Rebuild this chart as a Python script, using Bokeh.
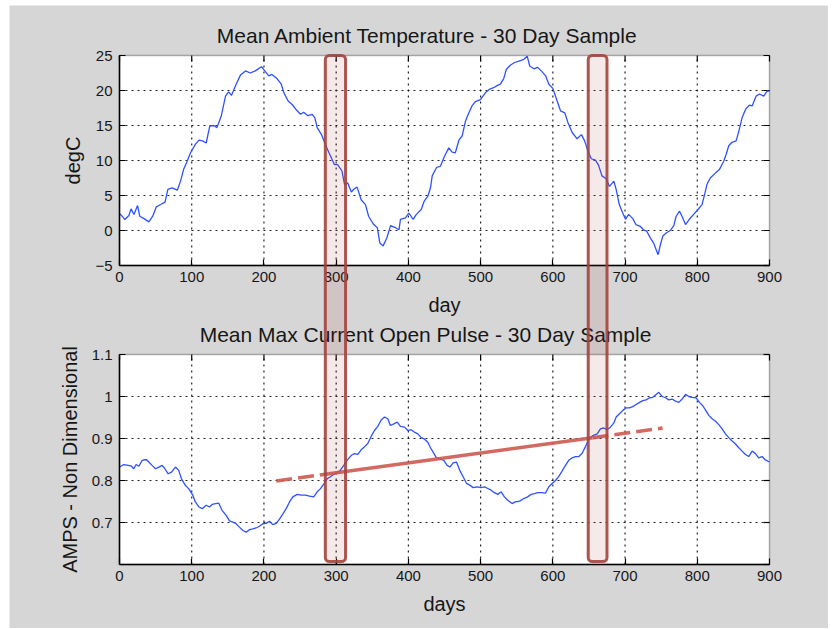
from bokeh.plotting import figure
from bokeh.models import Range1d, LinearAxis, FixedTicker, BoxAnnotation, Label
from bokeh.embed import file_html
from bokeh.resources import INLINE
import math

# ---------------- data ----------------
temp_day = [0, 3.7, 7.4, 13, 16, 20, 25, 28, 34, 40.6, 46, 51, 57, 63, 67, 73, 80, 84.5, 89, 93.7,
            98.3, 105, 110, 115, 120, 125, 130.6, 135, 141, 146.8, 151, 155, 161.5, 167.5, 174.5, 181,
            188, 196.6, 202, 206.8, 211, 218, 224, 227.5, 233.5, 239, 246, 250.6, 255, 261, 266.8,
            270.5, 273.7, 279.7, 285, 290, 297.7, 302, 308, 311.6, 316, 321, 325.4, 329, 334.6, 340.6,
            345, 352, 357, 360.5, 365, 370, 375.3, 382, 387, 389, 396, 400.6, 406.6, 411, 417.7, 422,
            427, 430.6, 433, 439, 444.5, 450, 456, 460.6, 465, 469.9, 474.4, 479, 482, 488, 492.8,
            499.8, 506.8, 512.8, 518, 522.7, 527.3, 532, 535.6, 541, 547, 553, 559, 564.5, 568, 573.7,
            579, 585, 590, 594.5, 600, 606, 610.6, 616.6, 621, 626.8, 633.6, 639.6, 644, 648.7, 653.3,
            659, 663.4, 668, 673.9, 678.4, 684.5, 687.6, 692, 696.8, 700.6, 705, 710.7, 715, 721, 725.5,
            730, 735, 739.5, 745.8, 749, 752.3, 757, 763, 767.5, 770.6, 775.4, 779, 783.7, 789, 795,
            801, 806.6, 810, 813.5, 818, 825, 830.6, 836.6, 840, 843.6, 848, 853.8, 857.6, 862, 866.8,
            872, 876, 881.5, 886, 892, 896.6, 900]
temp_degc = [2.42, 2.04, 1.56, 2.14, 3.09, 2.28, 3.57, 2.04, 1.7, 1.23, 2.04, 3.38, 3.71, 4.05, 5.86,
             6.1, 5.76, 7.05, 8.8, 9.9, 11.1, 12.3, 12.9, 12.8, 12.5, 14.9, 15.0, 14.7, 16.4, 19.2, 19.8,
             19.3, 20.9, 22.2, 22.8, 22.5, 22.8, 23.4, 22.7, 22.1, 22.3, 21.7, 20.9, 19.7, 18.5, 18.0,
             17.1, 16.6, 16.9, 16.4, 16.6, 16.1, 14.7, 13.7, 12.3, 11.1, 9.4, 9.4, 8.5, 6.6, 6.8, 5.5,
             6.0, 6.2, 4.4, 3.7, 2.0, 0.85, 0.4, -1.8, -2.2, -1.1, 0.7, 0.4, 0.1, 1.6, 1.8, 2.5, 1.6,
             2.3, 3.0, 4.2, 4.9, 6.1, 7.8, 9.0, 9.2, 10.6, 11.8, 11.2, 11.1, 12.9, 13.5, 15.6, 16.4,
             17.8, 18.4, 18.7, 19.7, 20.2, 20.4, 20.7, 20.9, 21.7, 23.0, 23.6, 24.0, 24.2, 24.4, 24.9,
             23.5, 23.1, 23.3, 22.7, 22.1, 20.9, 20.3, 18.5, 17.1, 16.8, 15.4, 14.0, 13.1, 13.7, 12.8,
             11.3, 10.25, 10.06, 9.3, 7.8, 7.4, 6.3, 7.05, 5.9, 3.7, 2.5, 1.6, 2.3, 1.7, 0.85, 0.6, 0.1,
             -0.1, -1.06, -1.8, -3.45, -2.0, -0.8, -0.35, 0.04, 0.7, 2.0, 2.76, 2.0, 0.85, 1.6, 2.3, 3.0,
             3.7, 5.1, 6.6, 7.5, 8.2, 8.7, 9.9, 10.9, 12.1, 12.6, 12.8, 14.2, 16.1, 17.3, 17.9, 17.8,
             19.2, 19.5, 19.2, 19.9, 19.9]

amp_day = [0, 6, 12, 16.6, 19.8, 23, 26.8, 31.4, 37, 40.6, 45, 50, 54.5, 59, 62.8, 67.4, 72, 77.5, 82,
           85.8, 91.4, 96, 101.5, 105, 110, 114.5, 120, 124.6, 128.3, 133, 137.5, 142, 147.7, 152.3,
           157, 161.5, 166, 170.8, 175.4, 180, 184.6, 189, 193.8, 198.4, 203, 207.7, 212.3, 217,
           221.5, 226, 230.8, 235.4, 240, 246, 252, 257.5, 263, 269, 273.7, 278, 283, 287.5, 292, 298,
           305, 310.6, 315, 321, 325.4, 330, 334.6, 339, 343.8, 348.4, 353, 357.6, 362.3, 366.9, 371.5,
           375, 379.8, 384.5, 389, 394.6, 399.2, 403.8, 408.5, 413, 417.7, 422, 426.9, 430.6, 434,
           438.9, 443.5, 449, 453.7, 457.4, 462, 466.6, 471.2, 475.8, 480.5, 485, 489.7, 495.2, 500.7,
           505.4, 510, 514.6, 519, 523.8, 528.4, 533, 537.7, 543.6, 548, 554, 559.8, 565, 570, 574.6,
           579, 585, 589.8, 594.5, 599, 603.7, 608.3, 613, 617.5, 622, 626.8, 631.4, 636, 640.6, 645,
           649.8, 655.4, 661.4, 665.9, 670.5, 675, 679.8, 684.5, 687.7, 692.3, 696.9, 701.5, 706,
           710.7, 715.3, 720, 724.6, 729, 734, 738.5, 743, 746.7, 751.4, 756, 760.6, 765, 769.8, 774.4,
           779, 783.7, 788.3, 792.9, 798.4, 803, 807.6, 811.3, 816, 820.6, 825.2, 829.8, 834.4, 839,
           843.6, 848.2, 852.9, 857.5, 862, 866.7, 871.3, 875.9, 880.5, 885, 889.7, 894.3, 900]
amp_value = [0.832, 0.838, 0.836, 0.834, 0.828, 0.838, 0.834, 0.848, 0.85, 0.844, 0.836, 0.828, 0.832,
             0.836, 0.828, 0.816, 0.82, 0.832, 0.824, 0.804, 0.788, 0.78, 0.765, 0.749, 0.737, 0.733,
             0.741, 0.737, 0.743, 0.745, 0.746, 0.729, 0.717, 0.704, 0.701, 0.697, 0.689, 0.681, 0.677,
             0.683, 0.685, 0.687, 0.691, 0.697, 0.698, 0.703, 0.695, 0.698, 0.708, 0.72, 0.733, 0.749,
             0.761, 0.767, 0.765, 0.765, 0.763, 0.761, 0.773, 0.78, 0.792, 0.804, 0.809, 0.816, 0.823,
             0.836, 0.848, 0.86, 0.864, 0.862, 0.873, 0.88, 0.888, 0.905, 0.919, 0.929, 0.944, 0.951,
             0.947, 0.931, 0.935, 0.939, 0.929, 0.927, 0.919, 0.921, 0.915, 0.911, 0.902, 0.899, 0.891,
             0.878, 0.868, 0.854, 0.852, 0.848, 0.836, 0.832, 0.842, 0.844, 0.824, 0.809, 0.793, 0.789,
             0.783, 0.785, 0.783, 0.785, 0.781, 0.777, 0.771, 0.767, 0.773, 0.761, 0.753, 0.745, 0.749,
             0.751, 0.757, 0.761, 0.767, 0.769, 0.771, 0.771, 0.770, 0.785, 0.793, 0.8, 0.81, 0.823,
             0.836, 0.848, 0.854, 0.857, 0.857, 0.865, 0.88, 0.899, 0.907, 0.911, 0.923, 0.925, 0.921,
             0.927, 0.937, 0.951, 0.959, 0.967, 0.973, 0.973, 0.976, 0.981, 0.986, 0.99, 0.992, 0.997,
             0.998, 1.005, 1.01, 1.0, 0.997, 0.992, 0.994, 0.989, 0.986, 0.994, 1.005, 1.0, 0.998, 0.997,
             0.986, 0.978, 0.968, 0.955, 0.947, 0.941, 0.933, 0.923, 0.911, 0.902, 0.894, 0.887, 0.878,
             0.87, 0.862, 0.857, 0.87, 0.864, 0.854, 0.857, 0.849, 0.844]

# trend line through the two sample windows (solid between the windows)
trend_day = [217, 290, 655, 752]
trend_amp = [0.799, 0.816, 0.902, 0.925]

# highlighted 30-day sample windows
window_start = [285, 649]
window_end = [313, 675]

x_ticks = [0, 100, 200, 300, 400, 500, 600, 700, 800, 900]
temp_ticks = [-5, 0, 5, 10, 15, 20, 25]
amp_ticks = [0.6, 0.7, 0.8, 0.9, 1.0, 1.1]
amp_label_ticks = [0.7, 0.8, 0.9, 1.0, 1.1]
amp_tick_labels = {0.7: "0.7", 0.8: "0.8", 0.9: "0.9", 1.0: "1", 1.1: "1.1"}

titles = ["Mean Ambient Temperature - 30 Day Sample",
          "Mean Max Current Open Pulse - 30 Day Sample"]
x_labels = ["day", "days"]
y_labels = ["degC", "AMPS - Non Dimensional"]

# ---------------- layout (page pixels) ----------------
PAGE_X0, PAGE_Y0 = 9, 5              # where the grey figure starts on the page
FIG_W, FIG_H = 819, 623
BOX_L, BOX_R = 119, 769              # both panels share these
TOP_T, TOP_B = 55, 265               # temperature panel
BOT_T, BOT_B = 354, 564              # current panel
FRAME_L, FRAME_R = PAGE_X0, PAGE_X0 + FIG_W
FRAME_T, FRAME_B = PAGE_Y0, PAGE_Y0 + FIG_H

X0, X1 = x_ticks[0], x_ticks[-1]
T0, T1 = temp_ticks[0], temp_ticks[-1]
A0, A1 = amp_ticks[0], amp_ticks[-1]

sx = (BOX_R - BOX_L) / (X1 - X0)
st = (TOP_B - TOP_T) / (T1 - T0)
sa = (BOT_B - BOT_T) / (A1 - A0)

x_range = Range1d(X0 - (BOX_L - FRAME_L) / sx, X1 + (FRAME_R - BOX_R) / sx)
temp_range = Range1d(T0 - (FRAME_B - TOP_B) / st, T1 + (TOP_T - FRAME_T) / st)
amp_range = Range1d(A0 - (FRAME_B - BOT_B) / sa, A1 + (BOT_T - FRAME_T) / sa)


def amp_to_temp(v):
    page_y = BOT_B - (v - A0) * sa
    return T0 - (page_y - TOP_B) / st


# ---------------- styling ----------------
BG = "#d6d6d6"
FONT = "Liberation Sans"
TXT = "#161616"
BLUE = "#2f52ff"
RECT_LINE = "#a3443d"
RECT_FILL = "#a82a2a"
TREND = "#cd5a50"

p = figure(width=None, height=None, frame_width=FIG_W, frame_height=FIG_H,
           min_border_left=0, min_border_right=0, min_border_top=0, min_border_bottom=0,
           x_range=x_range, y_range=temp_range,
           x_axis_location=None, y_axis_location=None,
           output_backend="svg", toolbar_location=None,
           background_fill_color=BG, border_fill_color=BG, outline_line_color=None,
           margin=(PAGE_Y0, 0, 0, PAGE_X0))
p.extra_y_ranges = {"amp": amp_range}
p.xgrid.visible = False
p.ygrid.visible = False

panels = [
    dict(rname="default", lo=T0, hi=T1, yticks=temp_ticks, lticks=temp_ticks),
    dict(rname="amp", lo=A0, hi=A1, yticks=amp_ticks, lticks=amp_label_ticks),
]

for i, pan in enumerate(panels):
    rn = pan["rname"]
    lo, hi = pan["lo"], pan["hi"]
    # white panel with black box
    p.add_layout(BoxAnnotation(left=X0, right=X1, bottom=lo, top=hi, y_range_name=rn,
                               fill_color="white", fill_alpha=1.0,
                               line_color="black", line_width=1.5, level="underlay"))
    # dotted grid
    yt = [t for t in pan["yticks"] if lo < t < hi]
    xt = [t for t in x_ticks if X0 < t < X1]
    p.segment(x0=xt, y0=[lo] * len(xt), x1=xt, y1=[hi] * len(xt), y_range_name=rn,
              line_color="black", line_alpha=0.85, line_width=1.2, line_dash="2 4")
    p.segment(x0=[X0] * len(yt), y0=yt, x1=[X1] * len(yt), y1=yt, y_range_name=rn,
              line_color="black", line_alpha=0.85, line_width=1.2, line_dash="2 4")
    # inward ticks on top and right edges
    p.ray(x=x_ticks, y=[hi] * len(x_ticks), length=6, length_units="screen",
          angle=-math.pi / 2, y_range_name=rn, line_color="black", line_width=1.2)
    p.ray(x=[X1] * len(pan["yticks"]), y=pan["yticks"], length=6, length_units="screen",
          angle=math.pi, y_range_name=rn, line_color="black", line_width=1.2)

    # bottom axis
    xa = LinearAxis(y_range_name=rn, fixed_location=lo, bounds=(X0, X1),
                    ticker=FixedTicker(ticks=x_ticks), axis_label=x_labels[i])
    # left axis
    ya = LinearAxis(y_range_name=rn, fixed_location=X0, bounds=(lo, hi),
                    ticker=FixedTicker(ticks=pan["lticks"]), axis_label=y_labels[i])
    for ax in (xa, ya):
        ax.major_tick_in = 6
        ax.major_tick_out = 0
        ax.minor_tick_in = 0
        ax.minor_tick_out = 0
        ax.axis_line_color = "black"
        ax.axis_line_width = 1.5
        ax.major_tick_line_color = "black"
        ax.major_tick_line_width = 1.2
        ax.major_label_text_font = FONT
        ax.major_label_text_font_size = "15px"
        ax.major_label_text_color = TXT
        ax.axis_label_text_font = FONT
        ax.axis_label_text_font_style = "normal"
        ax.axis_label_text_font_size = "20px"
        ax.axis_label_text_color = TXT
    xa.major_label_standoff = 6
    xa.axis_label_standoff = 9
    ya.major_label_standoff = 7
    ya.axis_label_standoff = 8
    if rn == "amp":
        ya.major_label_overrides = amp_tick_labels
    p.add_layout(xa, "below")
    p.add_layout(ya, "left")

    # title
    p.add_layout(Label(x=(X0 + X1) / 2, y=hi, y_range_name=rn, x_offset=-17 - 2 * i, y_offset=20,
                       text=titles[i], text_align="center", text_baseline="alphabetic",
                       text_font=FONT, text_font_size="21px", text_color=TXT))

# data lines
p.line(temp_day, temp_degc, line_color=BLUE, line_width=1.3)
p.line(amp_day, amp_value, y_range_name="amp", line_color=BLUE, line_width=1.3)

# trend line: dashed - solid - dashed
p.line(trend_day[0:2], trend_amp[0:2], y_range_name="amp", line_color=TREND, line_width=3.5,
       line_alpha=0.9, line_dash="16 6")
p.line(trend_day[1:3], trend_amp[1:3], y_range_name="amp", line_color=TREND, line_width=3.5,
       line_alpha=0.9)
p.line(trend_day[2:4], trend_amp[2:4], y_range_name="amp", line_color=TREND, line_width=3.5,
       line_alpha=0.9, line_dash="16 6")

# sample windows spanning both panels
for s, e in zip(window_start, window_end):
    p.add_layout(BoxAnnotation(left=s, right=e, top=T1, bottom=amp_to_temp(0.607),
                               fill_color=RECT_FILL, fill_alpha=0.1,
                               line_color=RECT_LINE, line_alpha=0.9, line_width=3,
                               border_radius=4, level="overlay"))

open("out.html", "w").write(file_html(p, INLINE))
